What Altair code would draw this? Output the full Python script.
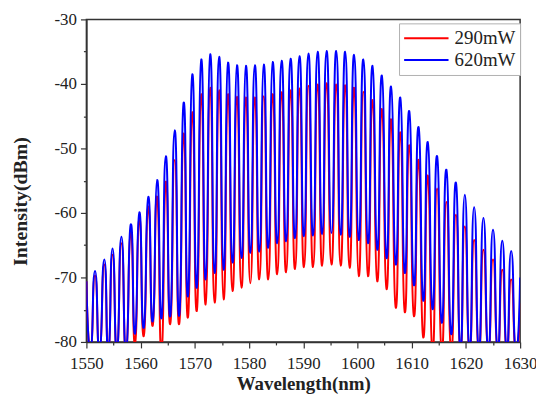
import altair as alt
import pandas as pd

# Peak wavelengths (nm)
peak_wl = [1551.59, 1553.30, 1554.82, 1556.46, 1558.18, 1559.76, 1561.41, 1563.05, 1564.65, 1566.29,
           1567.94, 1569.53, 1571.18, 1572.83, 1574.48, 1576.12, 1577.77, 1579.42, 1581.07, 1582.71,
           1584.36, 1586.01, 1587.66, 1589.30, 1590.95, 1592.65, 1594.30, 1596.08, 1597.73, 1599.37,
           1601.08, 1602.78, 1604.50, 1606.20, 1607.90, 1609.55, 1611.27, 1612.97, 1614.68, 1616.40,
           1618.16, 1619.80, 1621.52, 1623.23, 1625.00, 1626.71, 1628.35]
blue_peak = [-69.0, -67.2, -65.5, -63.7, -61.8, -59.9, -57.5, -54.9, -51.2, -47.2,
             -42.9, -38.5, -36.2, -35.4, -35.8, -36.7, -37.1, -37.2, -37.1, -37.0,
             -36.6, -36.4, -36.1, -35.7, -35.3, -35.0, -34.9, -34.9, -35.0, -35.5,
             -36.2, -37.2, -38.7, -40.4, -42.1, -44.2, -46.7, -49.0, -51.2, -53.3,
             -55.3, -57.2, -59.1, -60.8, -62.6, -64.3, -65.9]
red_peak = [-69.7, -68.0, -66.5, -64.7, -62.9, -60.8, -59.0, -57.5, -55.2, -51.8,
            -47.7, -44.4, -41.6, -40.6, -41.0, -41.6, -42.0, -42.1, -42.1, -41.9,
            -41.6, -41.3, -41.0, -40.7, -40.3, -40.1, -39.9, -40.1, -40.2, -40.6,
            -41.2, -42.5, -43.9, -45.5, -47.5, -49.5, -51.8, -54.2, -56.2, -58.3,
            -60.3, -62.1, -64.2, -65.7, -67.2, -68.8, -70.3]

# Trough wavelengths (nm) and depths (dBm); values under -80 run off the axis
trough_wl = [1550.78, 1552.44, 1554.06, 1555.64, 1557.32, 1558.97, 1560.58, 1562.23, 1563.86, 1565.47,
             1567.12, 1568.73, 1570.36, 1572.00, 1573.65, 1575.30, 1576.95, 1578.60, 1580.24, 1581.89,
             1583.54, 1585.19, 1586.83, 1588.48, 1590.13, 1591.81, 1593.48, 1595.20, 1596.90, 1598.55,
             1600.23, 1601.94, 1603.64, 1605.36, 1607.06, 1608.73, 1610.41, 1612.13, 1613.84, 1615.54,
             1617.28, 1618.98, 1620.66, 1622.38, 1624.12, 1625.86, 1627.53, 1629.19]
blue_trough = [-81.5, -81.5, -81.5, -81.5, -81.5, -78.7, -77.8, -76.8, -76.3, -76.0,
               -75.9, -72.9, -71.6, -70.3, -69.3, -68.8, -67.7, -67.0, -66.2, -66.0,
               -65.4, -64.7, -64.4, -63.9, -63.6, -63.5, -63.3, -63.1, -63.4, -63.7,
               -64.2, -64.7, -65.7, -67.0, -68.0, -69.3, -71.2, -73.6, -74.9, -77.0,
               -78.8, -81.5, -81.5, -81.5, -81.5, -81.5, -81.5, -81.5]
red_trough = [-81.5, -81.5, -81.5, -81.5, -81.5, -80.3, -79.1, -77.5, -81.5, -77.2,
              -77.2, -76.2, -75.2, -74.2, -73.9, -73.4, -72.1, -71.6, -70.9, -70.3,
              -70.3, -69.5, -69.2, -68.7, -68.4, -68.4, -68.2, -68.0, -68.2, -68.5,
              -69.8, -69.8, -70.6, -71.8, -74.7, -75.4, -76.0, -79.3, -81.5, -81.5,
              -81.5, -81.5, -81.5, -81.5, -81.5, -81.5, -81.5, -81.5]

edge_wl = [1550.0, 1630.0]
blue_edge = [-70.6, -70.0]
red_edge = [-70.6, -74.0]

series_names = ["290mW", "620mW"]
series_colors = ["#ff0000", "#0000ff"]
x_ticks = [1550, 1555, 1560, 1565, 1570, 1575, 1580, 1585, 1590, 1595, 1600,
           1605, 1610, 1615, 1620, 1625, 1630]
y_ticks = [-80, -75, -70, -65, -60, -55, -50, -45, -40, -35, -30]


def build(name, peaks, troughs, edges):
    rows = list(zip(peak_wl, peaks)) + list(zip(trough_wl, troughs)) + list(zip(edge_wl, edges))
    rows.sort(key=lambda r: r[0])
    return pd.DataFrame({"wl": [r[0] for r in rows], "val": [r[1] for r in rows], "series": name})


df_red = build("290mW", red_peak, red_trough, red_edge)
df_blue = build("620mW", blue_peak, blue_trough, blue_edge)

FONT = "Liberation Serif"
major_size = {"condition": {"test": "datum.value % 10 === 0", "value": 6}, "value": 3}

x_enc = alt.X("wl:Q", scale=alt.Scale(domain=[1550, 1630], nice=False, zero=False),
              axis=alt.Axis(values=x_ticks, title="Wavelength(nm)",
                            labelExpr="datum.value % 10 === 0 ? '' + datum.value : ''",
                            tickSize=major_size, labelFontSize=17,
                            labelFlush=False, labelPadding=8, titlePadding=3, titleFontSize=19))
y_enc = alt.Y("val:Q", scale=alt.Scale(domain=[-80, -30], nice=False, zero=False),
              axis=alt.Axis(values=y_ticks, title="Intensity(dBm)",
                            labelExpr="datum.value % 10 === 0 ? '' + datum.value : ''",
                            tickSize=major_size, labelFontSize=17,
                            labelFlush=False, labelPadding=4, titleFontSize=20,
                            titleX=-66, titleY=183, titleAlign="center", titleBaseline="middle"))
color_enc = alt.Color("series:N", scale=alt.Scale(domain=series_names, range=series_colors),
                      legend=alt.Legend(title=None, orient="none", legendX=315, legendY=4,
                                        symbolType="stroke", symbolSize=2000, symbolStrokeWidth=2,
                                        labelFont=FONT, labelFontSize=19, labelColor="#222",
                                        strokeColor="#b0b0b0", fillColor="white", padding=4,
                                        clipHeight=22, rowPadding=0, labelOffset=5))

line_style = dict(interpolate="cardinal", tension=-1, strokeWidth=2.0, clip=True)
red = alt.Chart(df_red).mark_line(**line_style).encode(
    x=x_enc, y=y_enc, color=color_enc, order="wl:Q")
blue = alt.Chart(df_blue).mark_line(**line_style).encode(
    x=x_enc, y=y_enc, color=color_enc, order="wl:Q")

chart = alt.layer(red, blue).properties(
    width=437, height=325,
    autosize=alt.AutoSizeParams(type="none"),
    padding={"left": 79, "top": 10, "right": 16, "bottom": 56},
).configure_view(stroke="#333333", strokeWidth=1.5).configure_axis(
    grid=False, domainColor="#333333", domainWidth=1.5, tickColor="#333333", tickWidth=1.2,
    labelFont=FONT, labelColor="#222",
    titleFont=FONT, titleFontWeight="bold", titleColor="#222",
)

chart.save("out.html", embed_options={"renderer": "svg", "actions": False})
